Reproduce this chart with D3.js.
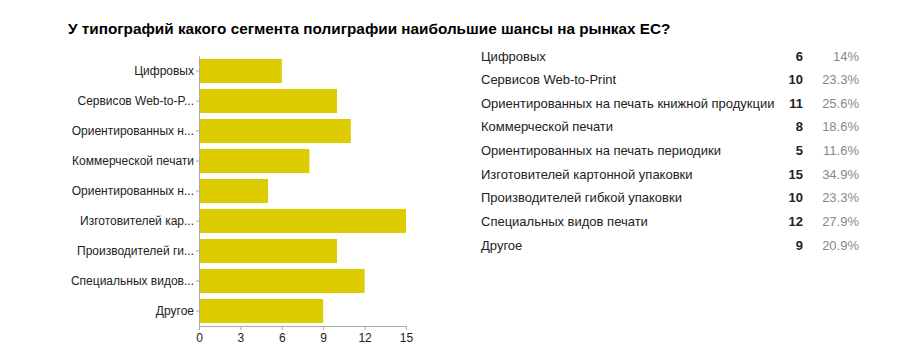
<!DOCTYPE html>
<html>
<head>
<meta charset="utf-8">
<script src="https://cdn.jsdelivr.net/npm/d3@7"></script>
<style>
  body { margin: 0; background: #fff; font-family: "Liberation Sans", Arial, sans-serif; }
  svg text { font-family: "Liberation Sans", Arial, sans-serif; }
</style>
</head>
<body>
<svg id="chartSvg" width="910" height="360"></svg>
<script>
//data
var titleText = 'У типографий какого сегмента полиграфии наибольшие шансы на рынках ЕС?';
var fullNames = ['Цифровых', 'Сервисов Web-to-Print', 'Ориентированных на печать книжной продукции',
	'Коммерческой печати', 'Ориентированных на печать периодики', 'Изготовителей картонной упаковки',
	'Производителей гибкой упаковки', 'Специальных видов печати', 'Другое'];
var shortNames = ['Цифровых', 'Сервисов Web-to-P...', 'Ориентированных н...', 'Коммерческой печати',
	'Ориентированных н...', 'Изготовителей кар...', 'Производителей ги...', 'Специальных видов...', 'Другое'];
var counts = [6, 10, 11, 8, 5, 15, 10, 12, 9];
var percents = ['14%', '23.3%', '25.6%', '18.6%', '11.6%', '34.9%', '23.3%', '27.9%', '20.9%'];
var xTicks = [0, 3, 6, 9, 12, 15];

var svg = d3.select('#chartSvg');

//title
svg.append('text')
	.attr('x', 68)
	.attr('y', 34)
	.style('font-size', '15.3px')
	.style('font-weight', 'bold')
	.style('fill', '#000')
	.text(titleText);

//bar chart
var x = d3.scaleLinear().domain([0, 15]).range([199, 406]);
var y = d3.scaleBand().domain(d3.range(counts.length)).range([56, 326]).paddingInner(0.2).paddingOuter(0.1);

svg.selectAll('.bar')
	.data(counts)
	.join('rect')
	.classed('bar', true)
	.attr('x', x(0))
	.attr('y', (d, i) => y(i))
	.attr('width', d => x(d) - x(0))
	.attr('height', y.bandwidth())
	.style('fill', '#dccc00');

var xAxis = svg.append('g')
	.attr('transform', 'translate(0,326)')
	.call(d3.axisBottom(x).tickValues(xTicks).tickSize(4).tickPadding(3));
xAxis.select('.domain').attr('stroke', '#aaa');
xAxis.selectAll('.tick line').attr('stroke', '#aaa');
xAxis.selectAll('.tick text').style('font-size', '12px').style('fill', '#222');

var yAxis = svg.append('g')
	.attr('transform', 'translate(199,0)')
	.call(d3.axisLeft(y).tickFormat(i => shortNames[i]).tickSize(3).tickPadding(2).tickSizeOuter(0));
yAxis.select('.domain').attr('stroke', '#aaa');
yAxis.selectAll('.tick line').attr('stroke', '#aaa');
yAxis.selectAll('.tick text').style('font-size', '12px').style('fill', '#222');

//table on the right
var rowY = d3.scaleLinear().domain([0, 8]).range([56, 245]);
var rows = svg.selectAll('.row')
	.data(fullNames)
	.join('g')
	.classed('row', true)
	.attr('transform', (d, i) => `translate(0,${rowY(i)})`);
rows.append('text')
	.attr('x', 481)
	.attr('dy', '0.35em')
	.style('font-size', '13px')
	.style('fill', '#222')
	.text(d => d);
rows.append('text')
	.attr('x', 803)
	.attr('dy', '0.35em')
	.style('text-anchor', 'end')
	.style('font-size', '13px')
	.style('font-weight', 'bold')
	.style('fill', '#222')
	.text((d, i) => counts[i]);
rows.append('text')
	.attr('x', 859)
	.attr('dy', '0.35em')
	.style('text-anchor', 'end')
	.style('font-size', '13px')
	.style('fill', '#888')
	.text((d, i) => percents[i]);
</script>
</body>
</html>
